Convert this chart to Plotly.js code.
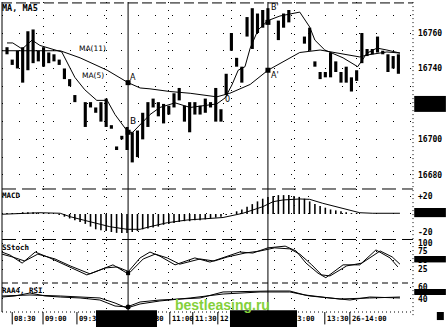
<!DOCTYPE html>
<html><head><meta charset="utf-8">
<script src="https://cdn.plot.ly/plotly-3.0.1.min.js"></script>
<style>html,body{margin:0;padding:0;background:#fff}#chart{width:446px;height:328px}</style>
</head><body><div id="chart"></div>
<script>
// ---- price bars (5-minute bars, index 0..75) ----
const barHigh = [16752,16745,16750,16752,16761,16762,16750,16752,16749,16748,
                 16745,16740,16734,16725,null,16721,16721,16718,16721,16723,
                 16708,16696,16702,16707,16704,16705,16715,16721,16723,16721,
                 16720,16719,16726,16729,16719,16721,16721,16719,16723,16721,
                 16729,16717,16737,16760,16746,16741,16769,16774,16771,16773,
                 16774,null,16767,16771,16773,null,null,16758,16763,16744,
                 16738,16738,16749,16744,16738,16741,16735,16739,16760,16751,
                 16751,16758,16750,16748,16747,16748];
const barLow  = [16748,16742,16740,16732,16739,16743,16744,16741,16743,16744,
                 16742,16734,16730,16721,null,16707,16718,16715,16710,16707,
                 16706,16694,16700,16694,16687,16690,16700,16707,16718,16713,
                 16709,16714,16718,16722,16710,16704,16714,16714,16715,16718,
                 16710,16710,16725,16750,16741,16732,16758,16751,16760,16763,
                 16766,null,16756,16763,16766,null,null,16754,16750,16741,
                 16734,16735,16735,16738,16732,16732,16727,16733,16743,16747,
                 16748,16749,16748,16738,16740,16737];

// ---- moving averages (read vertices: bar index, price) ----
const maSlowIdx = [-1,10.2,14,19.2,23.2,25.5,27.4,31.2,35.1,40.2,42.7,46.6,50,56.1,60,62.8,65.7,67.6,69,72.8,75.3];
const maSlowVal = [16750,16750,16746,16739,16732,16729,16728.5,16727,16726,16724,16726,16731,16739,16749,16750.4,16749,16747.6,16746.5,16747.6,16749.3,16748.7];
const maFastIdx = [0,1.1,2.9,4.8,6.3,9.2,10.5,13,14.9,17.2,19.2,20.7,23.2,24.1,26.1,27.4,29.3,32.2,35.1,37.9,40.2,41.8,43.1,44.3,45.6,46.6,48.1,50,52.3,56.1,58,59,60.9,64.4,67.2,69,70.9,72.8,75.3];
const maFastVal = [16754.4,16754.4,16751,16756,16753,16750.4,16749.3,16735,16728,16722,16722,16714,16704,16704,16710,16714,16718,16720.6,16718,16719,16720,16723.4,16730.7,16739,16741,16751.5,16761.7,16767,16769.6,16771.8,16763.4,16756,16750.4,16746,16741,16748.7,16751.5,16750.4,16748.7];

// cursor points A/B and A'/B'
const cursorIdx = [23.2, 50];
const cursorSlow = [16732, 16739];
const cursorFast = [16704, 16766];
const cursorStoch = [13];
const cursorRsi = [26.7];

// ---- MACD ----
const macdHist = [1,1,1,2,2,2,1,1,1,0,
                  -1,-3,-5,-7,-9,-11,-14,-17,-18,-19,
                  -20,-21,-21,-21,-20,-19,-17,-16,-15,-14,
                  -12,-11,-10,-9,-8,-8,-7,-7,-6,-5,
                  -4,-3,-1,1,3,5,8,11,14,17,
                  19,20,21,21,21,20,19,17,14,11,
                  9,7,5,4,3,2,1,1,0,0,
                  0,0,0,0,0,0];
const macdIdx = [-1,2.5,6.3,10.2,12.1,14.6,17.2,19.7,23,25.5,27.4,30.7,34.5,38.3,41.4,45.2,49,51,52.9,56.1,58,60.5,63,65.7,67.6,70.1,75.3];
const macdVal = [-0.3,0.8,1.4,0.8,-3,-6.7,-10.3,-14.1,-17,-17,-14.1,-9.7,-6.7,-4.8,-3.9,0.8,8.1,13.7,15.6,16.7,16.3,11.9,8.1,4.4,1.4,0.8,0.8];

// ---- Stochastic ----
const stochKIdx = [-1,0.6,2.9,5.4,8.2,11.1,15.3,17.8,20.3,23,25.5,27.4,29.3,32.2,36,38.9,41.4,44.6,47.1,50,53.3,55.4,57.3,59.6,61.1,64.4,67.6,70.7,73.4,74.9];
const stochKVal = [74,65,42,74,57,37,8,22,37,13,57,74,62,37,57,45,57,74,71,86,91,77,42,13,0,37,37,80,57,31];
const stochDIdx = [-1,1,3.4,5.9,9.2,12.1,15.9,18.8,21.1,23.6,26.1,28.4,30.7,33.1,37,39.7,42.3,45.6,48.5,51.3,54.2,56.1,58.4,60.3,61.9,65.1,68,71.5,73.8,75.3];
const stochDVal = [68,60,48,68,54,34,11,28,31,16,54,68,57,39,54,48,60,71,77,86,83,68,37,8,5,34,42,77,60,39];

// ---- RSI ----
const rsiIdx = [-1,1.5,4.4,7.3,10.2,14,17.8,20.7,23,25.5,29.3,33.1,37,41.4,46.6,50.4,54.2,57.1,61.9,65.7,69.5,75.3];
const rsiVal = [43.3,45,50,45,43.3,41.7,38.3,28.3,26.7,35,38.3,40,41.7,51.7,53.3,53.3,53.3,46.7,41.7,38.3,43.3,41.7];
const rsiMaIdx = [-1,4.4,10.2,17.8,20.7,23,25.5,29.3,35.1,41.4,48.5,54.2,58,63.8,69.5,75.3];
const rsiMaVal = [45,46.7,45,41.7,33.3,25,31.7,36.7,41.7,48.3,51.7,51.7,45,40,41.7,43.3];

// ---- axis labels ----
const hourIdx = [7,19,31,43,55,67];
const timeLabels = ['08:30','09:00','09:30','10:00','10:30','11:00','11:30','12:00','12:30','13:00','13:30','26-14:00'];
const timeIdx = [1.0,6.9,13.4,19.3,25.5,31.2,35.6,40.4,47.0,54.5,60.9,65.7];
const priceTicks = [16680,16700,16720,16740,16760];
const macdTicks = [-20,0,20];
const macdTickText = ['-20','0','+20'];
const stochTicks = [25,50,75,100];
const rsiTicks = [40,60];

const K = '#000';
const barIndex = barHigh.map((_, i) => i);
const barLen = barHigh.map((h, i) => (h == null || barLow[i] == null) ? null : h - barLow[i]);
const line = {color: K, width: 1};

const traces = [
  {type:'bar', x: barIndex, base: barLow, y: barLen, width: 0.6, marker:{color:K, line:{width:0}}, xaxis:'x', yaxis:'y', hoverinfo:'skip'},
  {type:'scatter', mode:'lines', x: maSlowIdx, y: maSlowVal, line, xaxis:'x', yaxis:'y', hoverinfo:'skip'},
  {type:'scatter', mode:'lines', x: maFastIdx, y: maFastVal, line, xaxis:'x', yaxis:'y', hoverinfo:'skip'},
  {type:'scatter', mode:'markers', x: cursorIdx, y: cursorSlow, marker:{symbol:'square', size:5, color:K}, xaxis:'x', yaxis:'y', hoverinfo:'skip'},
  {type:'scatter', mode:'markers', x: cursorIdx, y: cursorFast, marker:{symbol:'square', size:5, color:K}, xaxis:'x', yaxis:'y', hoverinfo:'skip'},
  {type:'bar', x: barIndex, y: macdHist, width: 0.3, marker:{color:K, line:{width:0}}, xaxis:'x', yaxis:'y2', hoverinfo:'skip'},
  {type:'scatter', mode:'lines', x: macdIdx, y: macdVal, line, xaxis:'x', yaxis:'y2', hoverinfo:'skip'},
  {type:'scatter', mode:'lines', x: stochKIdx, y: stochKVal, line, xaxis:'x', yaxis:'y3', hoverinfo:'skip'},
  {type:'scatter', mode:'lines', x: stochDIdx, y: stochDVal, line, xaxis:'x', yaxis:'y3', hoverinfo:'skip'},
  {type:'scatter', mode:'markers', x: [cursorIdx[0]], y: cursorStoch, marker:{symbol:'square', size:4, color:K}, xaxis:'x', yaxis:'y3', hoverinfo:'skip'},
  {type:'scatter', mode:'lines', x: rsiIdx, y: rsiVal, line, xaxis:'x', yaxis:'y4', hoverinfo:'skip'},
  {type:'scatter', mode:'lines', x: rsiMaIdx, y: rsiMaVal, line, xaxis:'x', yaxis:'y4', hoverinfo:'skip'},
  {type:'scatter', mode:'markers', x: [cursorIdx[0]], y: cursorRsi, marker:{symbol:'circle', size:5, color:K}, xaxis:'x', yaxis:'y4', hoverinfo:'skip'}
];

const tickFont = {family:'DejaVu Sans Mono', size:8, color:K, weight:'bold'};
const yBase = {side:'right', anchor:'x', zeroline:false, showline:false, ticks:'', tickfont: tickFont, tickformat:'d',
  showgrid:true, gridcolor:K, gridwidth:1, griddash:'1px,16px', fixedrange:true, ticklabelstandoff:4};

const shapes = [];
// cursor lines
cursorIdx.forEach(cx => shapes.push({type:'line', xref:'x', yref:'paper', x0:cx, x1:cx, y0:0, y1:1, line:{color:K, width:1}}));
// panel borders
const hsep = (y, dash) => shapes.push({type:'line', xref:'paper', yref:'paper', x0:0, x1:1, y0:y, y1:y, line:{color:K, width:1, dash}});
hsep(0.997, '10px,4px');
hsep(0.3968, '14px,6px');
hsep(0.2339, '14px,6px');
hsep(0.0935, '6px,4px');
hsep(0.0, '1px,3px');
shapes.push({type:'line', xref:'paper', yref:'paper', x0:1, x1:1, y0:-0.01, y1:1, line:{color:K, width:1, dash:'1px,3px'}});
shapes.push({type:'line', xref:'paper', yref:'paper', x0:0, x1:0, y0:0, y1:1, line:{color:K, width:1}});
// time tick marks
timeIdx.forEach(t => shapes.push({type:'line', xref:'x', yref:'paper', x0:t, x1:t, y0:0, y1:-0.04, line:{color:K, width:1}}));
// black blocks (scan redactions)
const blk = (o) => shapes.push(Object.assign({type:'rect', fillcolor:K, line:{width:0}, layer:'above'}, o));
blk({xref:'paper', yref:'y',  x0:1.003, x1:1.08, y0:16715.5, y1:16724.5});
blk({xref:'paper', yref:'y2', x0:1.003, x1:1.08, y0:-3.5, y1:6.7});
blk({xref:'paper', yref:'y3', x0:1.003, x1:1.08, y0:44, y1:62.5});
blk({xref:'paper', yref:'y4', x0:1.003, x1:1.08, y0:46.7, y1:56.7});
blk({xref:'paper', yref:'paper', x0:1.058, x1:1.075, y0:-0.026, y1:0});
blk({xref:'paper', yref:'paper', x0:0.2287, x1:0.3771, y0:-0.048, y1:0.006});
blk({xref:'paper', yref:'paper', x0:0.5547, x1:0.7178, y0:-0.048, y1:0.006});

const annFont = {family:'DejaVu Sans Mono', size:7.2, color:K, weight:'bold'};
const annotations = [];
timeLabels.forEach((t, i) => annotations.push({xref:'x', yref:'paper', x: timeIdx[i], y:-0.021, xanchor:'left', yanchor:'middle', xshift:1, borderpad:0, text:t, showarrow:false, font:annFont}));
const lab = (text, x, y, size, opts) => annotations.push(Object.assign({xref:'paper', yref:'paper', x, y, xanchor:'left', yanchor:'top', text, showarrow:false, borderpad:0, xshift:-1, font:{family:'DejaVu Sans Mono', size:size||8, color:K, weight:'bold'}}, opts||{}));
lab('MA, MA5', 0, 1.0, 8.5);
lab('MACD', 0, 0.394, 7.5);
lab('SStoch', 0, 0.227, 7.5);
lab('RAA4, RSI', 0, 0.086, 7.5);
// letter marks on main chart
const mark = (text, x, y, size) => annotations.push({xref:'x', yref:'y', x, y, text, showarrow:false, borderpad:0, font:{family:'DejaVu Sans', size:size||8, color:K}});
mark('A', 24.1, 16735);
mark('B', 24.2, 16710.5, 9);
mark('0', 42.3, 16722.5);
mark("A'", 51.4, 16736);
mark("B'", 51.4, 16774.3);
mark('MA(11)', 16.4, 16751.5, 7.5);
mark('MA(5)', 16.4, 16736.3, 7.5);
// watermark
annotations.push({xref:'paper', yref:'paper', x:0.5377, y:0.022, yanchor:'middle', text:'bestleasing.ru', showarrow:false, borderpad:0,
  font:{family:'Liberation Sans', size:14, color:'#84d03a', weight:'bold'}});

const layout = {
  width:446, height:328,
  margin:{l:2, r:33, t:2, b:16, pad:0},
  paper_bgcolor:'#fff', plot_bgcolor:'#fff',
  showlegend:false, barmode:'overlay',
  font:{family:'DejaVu Sans Mono', size:8, color:K},
  xaxis:{range:[-0.96, 77.8], anchor:'y4', showticklabels:false, ticks:'', zeroline:false, showline:false,
    tickmode:'array', tickvals: hourIdx, showgrid:true, gridcolor:K, gridwidth:1, griddash:'1px,7px', fixedrange:true},
  yaxis:Object.assign({}, yBase, {domain:[0.3968,1], range:[16672,16777.5], tickmode:'array', tickvals: priceTicks,
    minor:{tickmode:'linear', tick0:16670, dtick:20, showgrid:true, gridcolor:K, griddash:'1px,16px', ticks:''}}),
  yaxis2:Object.assign({}, yBase, {domain:[0.2355,0.3968], range:[-27.8,27.8], tickmode:'array', tickvals: macdTicks, ticktext: macdTickText}),
  yaxis3:Object.assign({}, yBase, {domain:[0.0935,0.2323], range:[-15.4,108.7], tickmode:'array', tickvals: stochTicks}),
  yaxis4:Object.assign({}, yBase, {domain:[0,0.0903], range:[18.3,65], tickmode:'array', tickvals: rsiTicks}),
  shapes, annotations
};

Plotly.newPlot('chart', traces, layout, {displayModeBar:false, staticPlot:true});
</script></body></html>
